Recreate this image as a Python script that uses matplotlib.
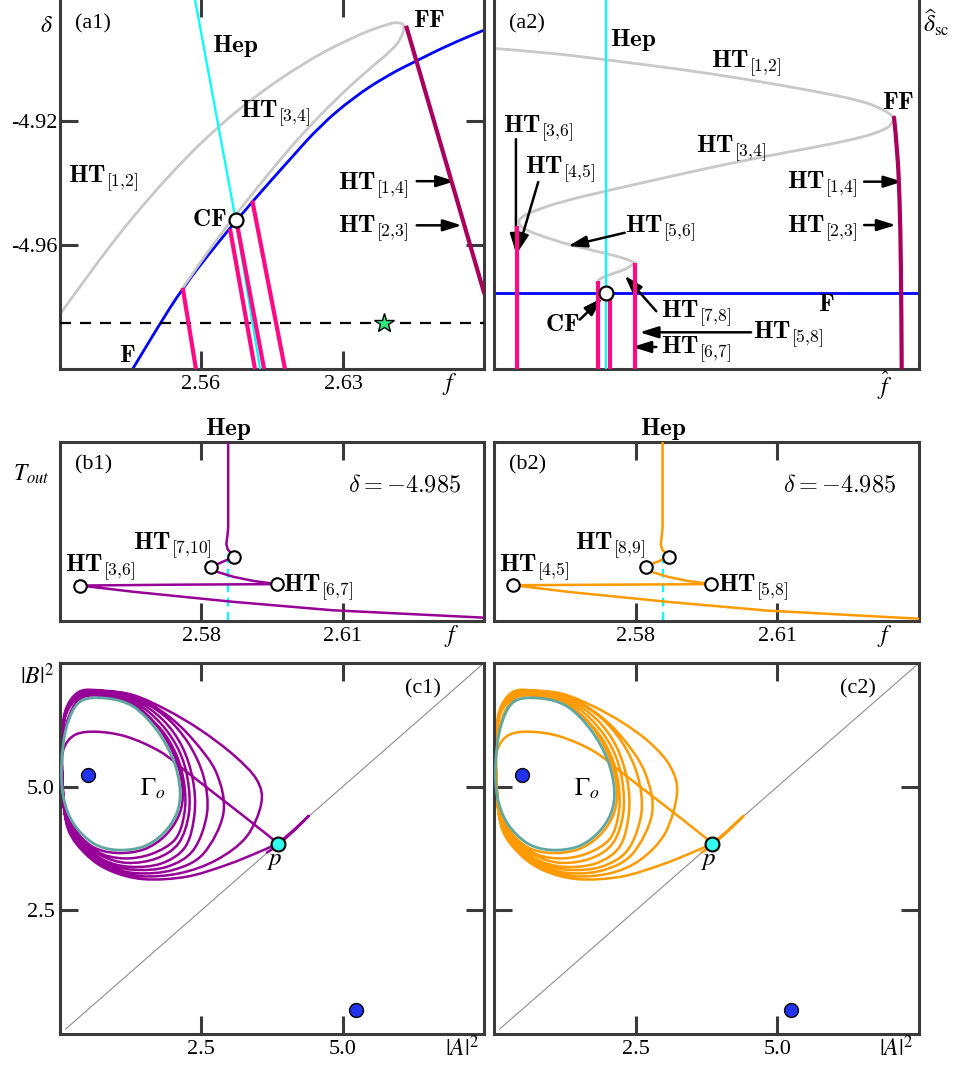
import matplotlib
matplotlib.use('Agg')
import matplotlib.pyplot as plt
from matplotlib.path import Path
from matplotlib.patches import PathPatch

plt.rcParams['font.family'] = ['Liberation Serif', 'DejaVu Serif']
plt.rcParams['mathtext.fontset'] = 'stix'
plt.rcParams['axes.unicode_minus'] = False

# ===================== DATA =====================
# (a1) two-parameter bifurcation diagram (f, delta)
a1_F_f = [2.5263, 2.5381, 2.5510, 2.5677, 2.5858, 2.6039, 2.6187, 2.6351, 2.6515, 2.6663, 2.6828, 2.6997]
a1_F_d = [-5.0, -4.9871, -4.9738, -4.9597, -4.9456, -4.9323, -4.9215, -4.9124, -4.9054, -4.9005, -4.8952, -4.8906]
a1_HT12_f = [2.4905, 2.5020, 2.5184, 2.5349, 2.5513, 2.5661, 2.5842, 2.6088, 2.6335, 2.6532, 2.6581, 2.6606,
             2.6589, 2.6548, 2.6417, 2.6252, 2.6088, 2.6006, 2.5858, 2.5677, 2.5510]
a1_HT12_d = [-4.9823, -4.9719, -4.9574, -4.9444, -4.9327, -4.9232, -4.9132, -4.9019, -4.8932, -4.8883, -4.8882, -4.8892,
             -4.8930, -4.8968, -4.9038, -4.9137, -4.9250, -4.9312, -4.9430, -4.9581, -4.9738]
a1_Hep_f = [2.5570, 2.5771, 2.5891]
a1_Hep_d = [-4.8806, -4.9519, -5.0]
a1_HTpink = [([2.5510, 2.5575], [-4.9738, -5.0]),
             ([2.5743, 2.5866], [-4.9548, -5.0]),
             ([2.5776, 2.5911], [-4.9527, -5.0]),
             ([2.5853, 2.6014], [-4.9457, -5.0])]
a1_HT14_f = [2.6611, 2.6997]
a1_HT14_d = [-4.8892, -4.9758]
a1_CF = (2.5771, -4.9519)
a1_star = (2.65, -4.985)
delta_cut = -4.985

# (a2) sketch in scaled coordinates (f_hat, delta_sc)
a2_Hep_u = 0.2645
a2_F_v = 0.2057
a2_gray1_u = [0.0, 0.1236, 0.2645, 0.4366, 0.5931, 0.7496, 0.8670, 0.9139, 0.9413, 0.9374, 0.9257, 0.8670, 0.7496,
              0.5931, 0.4366, 0.2801, 0.1628, 0.0923, 0.0610, 0.0571, 0.0650, 0.1002, 0.1784, 0.2645, 0.3114, 0.3310]
a2_gray1_v = [0.8664, 0.8556, 0.8357, 0.8105, 0.7834, 0.7518, 0.7247, 0.7021, 0.6823, 0.6661, 0.6498, 0.6254, 0.5983,
              0.5650, 0.5261, 0.4855, 0.4539, 0.4268, 0.4088, 0.3953, 0.3817, 0.3637, 0.3348, 0.3122, 0.2978, 0.2870]
a2_gray2_u = [0.3310, 0.3192, 0.2801, 0.2527, 0.2449]
a2_gray2_v = [0.2870, 0.2734, 0.2581, 0.2463, 0.2391]
a2_pink_u = [0.0548, 0.2449, 0.2723, 0.3310]
a2_pink_top = [0.3862, 0.2373, 0.2057, 0.2870]
a2_HT14_u = [0.9413, 0.9491, 0.9546, 0.9577, 0.9593]
a2_HT14_v = [0.6796, 0.5938, 0.4584, 0.2779, 0.0]
a2_CF = (0.2645, 0.2057)

# (b1)/(b2) period T_out versus f along delta = -4.985
b1_f = [2.5857, 2.5857, 2.5855, 2.5853, 2.5856, 2.5863, 2.5870, 2.5821, 2.5833, 2.5868, 2.5910, 2.5960,
        2.5750, 2.5543, 2.5657, 2.5868, 2.6079, 2.6397]
b1_T = [1.0, 0.52, 0.47, 0.43, 0.40, 0.38, 0.359, 0.303, 0.275, 0.247, 0.224, 0.206,
        0.203, 0.198, 0.163, 0.107, 0.060, 0.019]
b1_pts_f = [2.5870, 2.5821, 2.5960, 2.5543]
b1_pts_T = [0.359, 0.303, 0.206, 0.198]
b2_f = [2.5857, 2.5857, 2.5855, 2.5853, 2.5856, 2.5863, 2.5871, 2.5821, 2.5833, 2.5868, 2.5910, 2.5960,
        2.5750, 2.5541, 2.5657, 2.5868, 2.6079, 2.6399]
b2_T = [1.0, 0.52, 0.47, 0.43, 0.40, 0.38, 0.359, 0.303, 0.275, 0.247, 0.224, 0.206,
        0.203, 0.200, 0.163, 0.107, 0.058, 0.013]
b2_pts_f = [2.5871, 2.5821, 2.5960, 2.5541]
b2_pts_T = [0.359, 0.303, 0.206, 0.200]
b_Hep_f = 2.5857
b_Hep_top = 0.387

# (c1)/(c2) phase portraits (|A|^2, |B|^2)
Gamma_x = [0.354, 0.825, 1.297, 1.710, 2.005, 2.123, 2.064, 1.828, 1.474, 1.002, 0.590, 0.236, 0.059, 0.029, 0.118]
Gamma_y = [6.719, 6.786, 6.618, 6.146, 5.539, 4.933, 4.461, 4.057, 3.787, 3.720, 3.855, 4.259, 4.798, 5.472, 6.213]
eq_x = [0.49, 5.24]
eq_y = [5.24, 0.49]
p_xy = (3.85, 3.85)

c_seg1_x = [3.85, 3.30, 2.77, 2.24, 1.77, 1.18, 0.65, 0.27, 0.07, 0.03, 0.07, 0.27, 0.65, 1.12, 1.62, 2.04, 2.20,
            2.20, 2.06, 1.77, 1.30, 0.77, 0.35, 0.11, 0.03, 0.035]
c_seg1_y = [3.86, 4.36, 4.83, 5.30, 5.71, 6.01, 6.11, 6.05, 5.78, 5.34, 4.66, 4.12, 3.69, 3.55, 3.64, 3.94, 4.46,
            5.03, 5.64, 6.18, 6.63, 6.83, 6.81, 6.48, 5.94, 5.20]
c_loop1_x = [0.06, 0.22, 0.57, 1.00, 1.48, 1.86, 2.11, 2.17, 2.05, 1.75, 1.31, 0.83, 0.36, 0.11, 0.02]
c_loop1_y = [4.70, 4.20, 3.79, 3.66, 3.73, 4.01, 4.44, 4.93, 5.55, 6.18, 6.67, 6.84, 6.78, 6.26, 5.47]
c_loop2_x = [0.09, 0.32, 0.71, 1.18, 1.71, 2.10, 2.28, 2.26, 2.10, 1.78, 1.33, 0.80, 0.37, 0.12, 0.035, 0.035]
c_loop2_y = [4.46, 3.99, 3.62, 3.46, 3.55, 3.86, 4.46, 5.14, 5.74, 6.28, 6.70, 6.87, 6.85, 6.52, 5.94, 5.14]
c_loop3_x = [0.10, 0.35, 0.77, 1.24, 1.80, 2.22, 2.38, 2.35, 2.16, 1.82, 1.33, 0.80, 0.35, 0.11, 0.035, 0.04]
c_loop3_y = [4.39, 3.89, 3.52, 3.38, 3.45, 3.79, 4.46, 5.14, 5.81, 6.35, 6.75, 6.90, 6.87, 6.52, 5.91, 5.07]
c_loop4_x = [0.12, 0.38, 0.80, 1.30, 1.89, 2.36, 2.60, 2.54, 2.27, 1.86, 1.33, 0.80, 0.35, 0.11, 0.035, 0.05]
c_loop4_y = [4.33, 3.82, 3.46, 3.32, 3.38, 3.72, 4.46, 5.20, 5.88, 6.42, 6.79, 6.92, 6.89, 6.52, 5.88, 5.00]
c1_loop5_x = [0.13, 0.41, 0.83, 1.36, 2.01, 2.54, 2.89, 2.77, 2.36, 1.89, 1.33, 0.80, 0.35, 0.11, 0.035, 0.05]
c1_loop5_y = [4.26, 3.75, 3.40, 3.25, 3.32, 3.65, 4.46, 5.27, 5.94, 6.45, 6.82, 6.93, 6.90, 6.52, 5.84, 4.93]
c1_loop6_x = [0.14, 0.44, 0.86, 1.42, 2.12, 2.77, 3.30, 3.56, 3.48, 3.07, 2.48, 1.89, 1.30, 0.77, 0.34, 0.09, 0.035, 0.05]
c1_loop6_y = [4.19, 3.69, 3.35, 3.19, 3.25, 3.52, 3.99, 4.66, 5.14, 5.64, 6.15, 6.55, 6.85, 6.94, 6.92, 6.52, 5.81, 4.87]
c2_loop5_x = [0.13, 0.41, 0.83, 1.36, 1.95, 2.45, 2.79, 2.67, 2.30, 1.85, 1.30, 0.80, 0.35, 0.11, 0.035, 0.05]
c2_loop5_y = [4.26, 3.75, 3.40, 3.25, 3.32, 3.65, 4.46, 5.27, 5.94, 6.45, 6.82, 6.93, 6.90, 6.52, 5.84, 4.93]
c2_loop6_x = [0.14, 0.44, 0.85, 1.41, 2.05, 2.58, 3.02, 3.23, 3.11, 2.76, 2.29, 1.76, 1.23, 0.76, 0.34, 0.09, 0.035, 0.05]
c2_loop6_y = [4.19, 3.69, 3.35, 3.19, 3.25, 3.52, 4.06, 4.87, 5.41, 5.88, 6.28, 6.62, 6.87, 6.94, 6.92, 6.52, 5.81, 4.87]
c_final_x = [0.15, 0.47, 0.89, 1.48, 2.24, 2.95, 3.54, 3.85, 4.13, 4.40, 4.13, 3.83, 3.66]
c_final_y = [4.12, 3.62, 3.30, 3.13, 3.18, 3.42, 3.69, 3.86, 4.12, 4.41, 4.10, 3.80, 3.67]

# ===================== STYLE =====================
W, H = 954, 1065
SPINE = '#3a3a3a'
PINK = '#ff0a84'
DARKPINK = '#a8005c'
GRAY = '#c8c8c8'
PURPLE = '#960096'
ORANGE = '#ff9a00'
TEAL = '#5fa8a2'
CYAN = '#00ffff'
BLUE = '#0000ff'
HTFS = 18

fig = plt.figure(figsize=(W / 100, H / 100), dpi=100)


def box(l, t, r, b):
    return [l / W, 1 - b / H, (r - l) / W, (b - t) / H]


def frame(ax):
    for s in ax.spines.values():
        s.set_color(SPINE)
        s.set_linewidth(2.2)
    ax.tick_params(which='both', direction='in', length=13, width=2.2, color=SPINE,
                   labelsize=16, pad=4)


def bspline(ax, xs, ys, **kw):
    """Quadratic B-spline path with the read points as control points."""
    P = list(zip(xs, ys))
    verts = [P[0]]
    codes = [Path.MOVETO]
    for i in range(1, len(P) - 1):
        mid = ((P[i][0] + P[i + 1][0]) / 2, (P[i][1] + P[i + 1][1]) / 2)
        verts += [P[i], mid]
        codes += [Path.CURVE3, Path.CURVE3]
    verts.append(P[-1])
    codes.append(Path.LINETO)
    ax.add_patch(PathPatch(Path(verts, codes), facecolor='none', capstyle='round',
                           joinstyle='round', **kw))


def smooth(ax, xs, ys, closed=False, **kw):
    """Catmull-Rom curve through the read points, drawn as cubic Bezier path."""
    P = list(zip(xs, ys))
    n = len(P)
    verts = [P[0]]
    codes = [Path.MOVETO]
    nseg = n if closed else n - 1
    for i in range(nseg):
        if closed:
            p0, p1, p2, p3 = P[(i - 1) % n], P[i], P[(i + 1) % n], P[(i + 2) % n]
        else:
            p0 = P[i - 1] if i > 0 else P[i]
            p1, p2 = P[i], P[i + 1]
            p3 = P[i + 2] if i + 2 < n else P[i + 1]
        c1 = (p1[0] + (p2[0] - p0[0]) / 6, p1[1] + (p2[1] - p0[1]) / 6)
        c2 = (p2[0] - (p3[0] - p1[0]) / 6, p2[1] - (p3[1] - p1[1]) / 6)
        verts += [c1, c2, p2]
        codes += [Path.CURVE4] * 3
    ax.add_patch(PathPatch(Path(verts, codes), facecolor='none', capstyle='round',
                           joinstyle='round', **kw))


def HT(a, b):
    return r'$\mathbf{HT}_{[\mathbf{%s{,}%s}]}$' % (a, b)


def label(ax, x, y, s, ha='left', size=HTFS, **kw):
    ax.text(x, y, s, transform=ax.transAxes, ha=ha, va='baseline', fontsize=size,
            math_fontfamily='cm', **kw)


def arrow(ax, x0, y0, x1, y1):
    ax.annotate('', xy=(x1, y1), xytext=(x0, y0), xycoords='axes fraction', textcoords='axes fraction',
                arrowprops=dict(arrowstyle='-|>,head_length=0.8,head_width=0.25', color='k', lw=1.8,
                                shrinkA=0, shrinkB=0, mutation_scale=14))


# ===================== (a1) =====================
ax = fig.add_axes(box(60, -1, 484, 369))
frame(ax)
ax.set_xlim(2.4905, 2.6995)
ax.set_ylim(-5.0, -4.8806)
bspline(ax, a1_F_f, a1_F_d, edgecolor=BLUE, lw=2.0, zorder=1)
bspline(ax, a1_HT12_f, a1_HT12_d, edgecolor=GRAY, lw=2.0, zorder=2)
ax.plot(a1_Hep_f, a1_Hep_d, color=CYAN, lw=1.6, zorder=3)
for fs, ds in a1_HTpink:
    ax.plot(fs, ds, color=PINK, lw=3.0, solid_capstyle='butt', zorder=4)
ax.plot(a1_HT14_f, a1_HT14_d, color=DARKPINK, lw=3.0, solid_capstyle='butt', zorder=4)
ax.axhline(delta_cut, color='k', lw=1.6, ls=(0, (5, 4)), zorder=3)
ax.plot(*a1_star, marker='*', ms=15, mfc='#2ee87a', mec='k', mew=1.0, zorder=6)
ax.plot(*a1_CF, marker='o', ms=10, mfc='white', mec='k', mew=1.6, zorder=6)
ax.set_xticks([2.56, 2.63])
ax.set_xticklabels(['2.56', '2.63'])
ax.set_yticks([-4.92, -4.96])
ax.set_yticklabels(['-4.92', '-4.96'])
ax.tick_params(top=True, right=True)
ax.tick_params(axis='y', pad=2)
ax.text(0.035, 0.92, '(a1)', transform=ax.transAxes, fontsize=16, va='baseline')
label(ax, 0.019, 0.503, HT(1, 2))
label(ax, 0.425, 0.679, HT(3, 4))
label(ax, 0.358, 0.856, r'$\mathbf{Hep}$')
label(ax, 0.833, 0.923, r'$\mathbf{FF}$')
label(ax, 0.394, 0.386, r'$\mathbf{CF}$', ha='right')
label(ax, 0.139, 0.020, r'$\mathbf{F}$')
label(ax, 0.821, 0.485, HT(1, 4), ha='right')
label(ax, 0.821, 0.368, HT(2, 3), ha='right')
arrow(ax, 0.8413, 0.5076, 0.9316, 0.5076)
arrow(ax, 0.8413, 0.3883, 0.9474, 0.3883)

# ===================== (a2) =====================
ax = fig.add_axes(box(494, -1, 919, 369))
frame(ax)
ax.set_xlim(0, 1)
ax.set_ylim(0, 1)
ax.set_xticks([])
ax.set_yticks([])
ax.axvline(a2_Hep_u, color=CYAN, lw=1.6, zorder=3)
ax.axhline(a2_F_v, color=BLUE, lw=2.0, zorder=2)
bspline(ax, a2_gray1_u, a2_gray1_v, edgecolor=GRAY, lw=2.0, zorder=2)
bspline(ax, a2_gray2_u, a2_gray2_v, edgecolor=GRAY, lw=2.0, zorder=2)
for u, top in zip(a2_pink_u, a2_pink_top):
    ax.plot([u, u], [top, 0], color=PINK, lw=3.0, solid_capstyle='butt', zorder=4)
bspline(ax, a2_HT14_u, a2_HT14_v, edgecolor=DARKPINK, lw=3.0, zorder=4)
ax.plot(*a2_CF, marker='o', ms=10, mfc='white', mec='k', mew=1.6, zorder=6)
ax.text(0.036, 0.92, '(a2)', transform=ax.transAxes, fontsize=16, va='baseline')
label(ax, 0.2723, 0.874, r'$\mathbf{Hep}$')
label(ax, 0.5110, 0.815, HT(1, 2))
label(ax, 0.4757, 0.583, HT(3, 4))
label(ax, 0.9139, 0.702, r'$\mathbf{FF}$')
label(ax, 0.0219, 0.639, HT(3, 6))
label(ax, 0.0728, 0.526, HT(4, 5))
label(ax, 0.3075, 0.368, HT(5, 6))
label(ax, 0.3936, 0.138, HT(7, 8))
label(ax, 0.6103, 0.081, HT(5, 8))
label(ax, 0.3936, 0.041, HT(6, 7))
label(ax, 0.2019, 0.102, r'$\mathbf{CF}$', ha='right')
label(ax, 0.8553, 0.4855, HT(1, 4), ha='right')
label(ax, 0.8553, 0.368, HT(2, 3), ha='right')
label(ax, 0.7613, 0.156, r'$\mathbf{F}$')
arrow(ax, 0.0516, 0.6209, 0.0516, 0.3141)
arrow(ax, 0.1041, 0.5054, 0.0548, 0.3141)
arrow(ax, 0.3075, 0.3682, 0.1745, 0.3321)
arrow(ax, 0.3819, 0.1561, 0.3075, 0.2526)
arrow(ax, 0.6049, 0.0992, 0.3427, 0.0992)
arrow(ax, 0.3819, 0.0595, 0.3255, 0.0595)
arrow(ax, 0.2019, 0.1335, 0.2551, 0.1922)
arrow(ax, 0.8709, 0.5063, 0.9609, 0.5063)
arrow(ax, 0.8709, 0.3890, 0.9452, 0.3890)

fig.text(46 / W, 1 - 26 / H, r'$\delta$', fontsize=17, ha='center', va='center')
fig.text(450 / W, 1 - 384 / H, r'$f$', fontsize=17, ha='center', va='center')
fig.text(923 / W, 1 - 23 / H, r'$\widehat{\delta}_{\rm sc}$', fontsize=17, ha='left', va='center')
fig.text(885 / W, 1 - 386 / H, r'$\widehat{f}$', fontsize=17, ha='center', va='center')


# ===================== (b1), (b2) =====================
def bpanel(l, r, fs, Ts, pf, pT, col, tag, labels):
    ax = fig.add_axes(box(l, 442, r, 621))
    frame(ax)
    ax.set_xlim(2.55, 2.64)
    ax.set_ylim(0, 1)
    ax.set_xticks([2.58, 2.61])
    ax.set_xticklabels(['2.58', '2.61'])
    ax.set_yticks([])
    ax.tick_params(top=True, length=13)
    ax.plot([b_Hep_f, b_Hep_f], [0, b_Hep_top], color=CYAN, lw=1.6, ls=(0, (4, 2.5)), zorder=2)
    ax.plot(fs, Ts, color=col, lw=1.8, zorder=3, solid_joinstyle='round')
    ax.plot(pf, pT, ls='none', marker='o', ms=9, mfc='white', mec='k', mew=1.5, zorder=5)
    ax.text(0.035, 0.849, tag, transform=ax.transAxes, fontsize=16, va='baseline')
    ax.text(0.679, 0.722, r'$\delta = -4.985$', transform=ax.transAxes, fontsize=17.5, va='baseline',
            math_fontfamily='cm')
    label(ax, 0.397, 1.039, r'$\mathbf{Hep}$', ha='center')
    for (u, v, s) in labels:
        label(ax, u, v, s)
    return ax


bpanel(60, 484, b1_f, b1_T, b1_pts_f, b1_pts_T, PURPLE, '(b1)',
       [(0.173, 0.397, HT(7, 10)), (0.012, 0.275, HT(3, 6)), (0.527, 0.164, HT(6, 7))])
bpanel(494, 919, b2_f, b2_T, b2_pts_f, b2_pts_T, ORANGE, '(b2)',
       [(0.190, 0.397, HT(8, 9)), (0.012, 0.275, HT(4, 5)), (0.527, 0.164, HT(5, 8))])
fig.text(31 / W, 1 - 474 / H, r'$T_{out}$', fontsize=17, ha='center', va='center')
fig.text(452 / W, 1 - 636 / H, r'$f$', fontsize=17, ha='center', va='center')
fig.text(885 / W, 1 - 636 / H, r'$f$', fontsize=17, ha='center', va='center')


# ===================== (c1), (c2) =====================
def cpanel(l, r, col, loop5, loop6, tag, ylabels):
    ax = fig.add_axes(box(l, 663, r, 1034))
    frame(ax)
    ax.set_xlim(0, 7.5)
    ax.set_ylim(0, 7.5)
    ax.set_xticks([2.5, 5.0])
    ax.set_xticklabels(['2.5', '5.0'])
    ax.set_yticks([2.5, 5.0])
    ax.set_yticklabels(['2.5', '5.0'] if ylabels else [])
    ax.tick_params(top=True, right=True, length=13)
    ax.plot([0.1, 7.5], [0.1, 7.5], color='#999999', lw=0.9, zorder=1)
    xs = c_seg1_x + c_loop1_x + c_loop2_x + c_loop3_x + c_loop4_x + loop5[0] + loop6[0] + c_final_x
    ys = c_seg1_y + c_loop1_y + c_loop2_y + c_loop3_y + c_loop4_y + loop5[1] + loop6[1] + c_final_y
    smooth(ax, xs, ys, edgecolor=col, lw=1.8, zorder=2)
    smooth(ax, Gamma_x, Gamma_y, closed=True, edgecolor=TEAL, lw=2.0, zorder=3)
    ax.plot(eq_x, eq_y, ls='none', marker='o', ms=10, mfc='#2233ee', mec='k', mew=1.0, zorder=5)
    ax.plot(*p_xy, marker='o', ms=10, mfc='#33ffee', mec='k', mew=1.5, zorder=5)
    ax.text(1.41, 4.81, r'$\Gamma_o$', fontsize=18, va='baseline')
    ax.text(3.80, 3.42, r'$p$', fontsize=18, va='baseline', ha='center')
    ax.text(0.814, 0.919, tag, transform=ax.transAxes, fontsize=16, va='baseline')
    return ax


cpanel(60, 484, PURPLE, (c1_loop5_x, c1_loop5_y), (c1_loop6_x, c1_loop6_y), '(c1)', True)
cpanel(494, 919, ORANGE, (c2_loop5_x, c2_loop5_y), (c2_loop6_x, c2_loop6_y), '(c2)', False)
fig.text(37 / W, 1 - 676 / H, r'$|B|^2$', fontsize=17, ha='center', va='center')
fig.text(462 / W, 1 - 1048 / H, r'$|A|^2$', fontsize=17, ha='center', va='center')
fig.text(896 / W, 1 - 1048 / H, r'$|A|^2$', fontsize=17, ha='center', va='center')

fig.savefig('out.png', dpi=100)
